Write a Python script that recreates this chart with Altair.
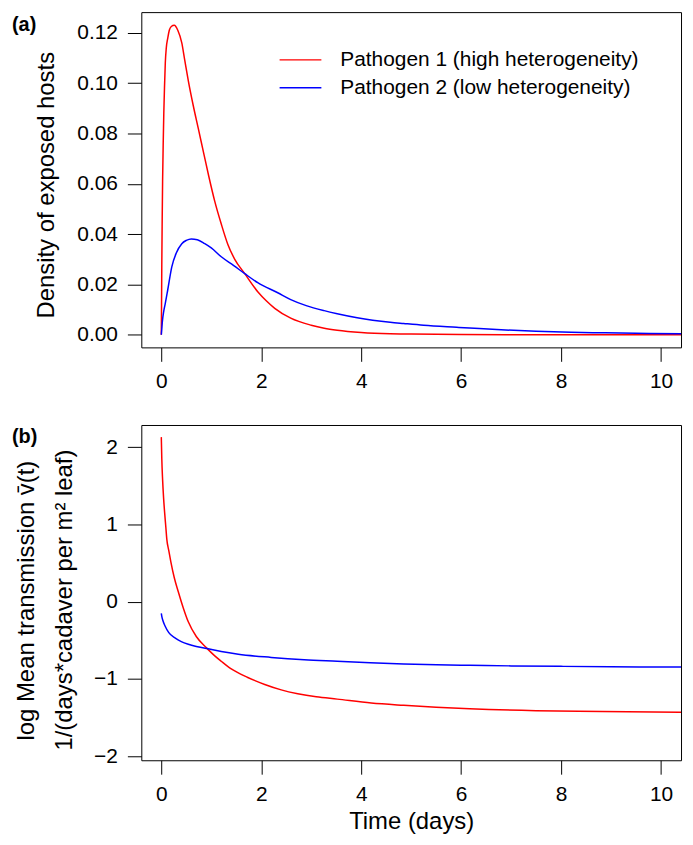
import altair as alt
import pandas as pd

series_names = ["Pathogen 1 (high heterogeneity)", "Pathogen 2 (low heterogeneity)"]
series_colors = ["#FF0000", "#0000FF"]

x_ticks = [0, 2, 4, 6, 8, 10]
ya_ticks = [0.0, 0.02, 0.04, 0.06, 0.08, 0.10, 0.12]
yb_ticks = [-2, -1, 0, 1, 2]

title_a_y = "Density of exposed hosts"
title_b_y1 = "log Mean transmission v\u0304(t)"
title_b_y2 = "1/(days*cadaver per m\u00b2 leaf)"
title_x = "Time (days)"

# Panel (a): density of exposed hosts
a_red_t = [0, 0.005, 0.01, 0.018, 0.026, 0.04, 0.05, 0.065, 0.08, 0.1, 0.13, 0.16, 0.2, 0.26,
           0.33, 0.41, 0.47, 0.54, 0.64, 0.74, 0.85, 0.95, 1.07, 1.2, 1.33, 1.47, 1.67, 1.93,
           2.1, 2.27, 2.59, 3.0, 3.26, 3.52, 4.0, 4.58, 5.0, 6.0, 7.0, 8.0, 9.0, 10.4]
a_red_v = [0, 0.012, 0.028, 0.046, 0.061, 0.078, 0.088, 0.099, 0.108, 0.114, 0.118, 0.121, 0.1225, 0.123,
           0.121, 0.116, 0.109, 0.101, 0.091, 0.082, 0.072, 0.063, 0.053, 0.044, 0.036, 0.030, 0.0243, 0.0171,
           0.0135, 0.0105, 0.0066, 0.0038, 0.0026, 0.0018, 0.0009, 0.0004, 0.0003, 0.00012, 0.00005, 0.00003, 0.00002, 0.00001]
a_blue_t = [0, 0.01, 0.02, 0.05, 0.08, 0.13, 0.21, 0.3, 0.41, 0.5, 0.6, 0.72, 0.87, 1.0, 1.2, 1.45, 1.67,
            1.93, 2.33, 2.59, 2.9, 3.26, 3.52, 3.92, 4.58, 4.85, 5.25, 5.91, 6.17, 6.8, 7.5, 8.2, 8.82, 9.5, 10.4]
a_blue_v = [0, 0.0025, 0.005, 0.0095, 0.0125, 0.018, 0.027, 0.0325, 0.0362, 0.0375, 0.0381, 0.0378, 0.0362,
            0.0345, 0.031, 0.0275, 0.0243, 0.0207, 0.0167, 0.0140, 0.0116, 0.0096, 0.0084, 0.0068, 0.0050,
            0.0045, 0.0038, 0.0030, 0.0027, 0.0020, 0.0014, 0.0010, 0.0008, 0.0006, 0.0004]

# Panel (b): log mean transmission
b_red_t = [0, 0.01, 0.026, 0.045, 0.066, 0.09, 0.11, 0.15, 0.19, 0.26, 0.34, 0.44, 0.54, 0.7, 0.91, 1.07,
           1.2, 1.4, 1.73, 2.07, 2.4, 2.73, 3.1, 3.52, 4.2, 4.85, 5.5, 6.17, 7.5, 8.82, 10.4]
b_red_v = [2.13, 1.85, 1.58, 1.35, 1.16, 0.97, 0.81, 0.66, 0.52, 0.31, 0.13, -0.08, -0.26, -0.45, -0.60, -0.70,
           -0.77, -0.87, -0.98, -1.07, -1.14, -1.19, -1.23, -1.26, -1.31, -1.34, -1.365, -1.385, -1.41, -1.42, -1.43]
b_blue_t = [0, 0.01, 0.03, 0.08, 0.15, 0.28, 0.4, 0.54, 0.7, 0.91, 1.2, 1.54, 2.2, 2.86, 3.52, 4.18, 4.85,
            5.51, 6.17, 7.0, 8.0, 9.0, 10.4]
b_blue_v = [-0.15, -0.19, -0.24, -0.32, -0.40, -0.47, -0.515, -0.55, -0.578, -0.605, -0.645, -0.68, -0.72,
            -0.75, -0.77, -0.79, -0.805, -0.815, -0.822, -0.83, -0.836, -0.841, -0.845]


def long_df(rt, rv, bt, bv):
    d1 = pd.DataFrame({"t": rt, "v": rv, "series": series_names[0]})
    d2 = pd.DataFrame({"t": bt, "v": bv, "series": series_names[1]})
    return pd.concat([d1, d2], ignore_index=True)


df_a = long_df(a_red_t, a_red_v, a_blue_t, a_blue_v)
df_b = long_df(b_red_t, b_red_v, b_blue_t, b_blue_v)

FONT = "Liberation Sans"
TICK_FS = 21
TITLE_FS = 24
W, H = 542.5, 337

xscale = alt.Scale(domain=[-0.4, 10.4], nice=False, zero=False)
cscale = alt.Scale(domain=series_names, range=series_colors)

legend_a = alt.Legend(
    orient="none", legendX=138, legendY=38, title=None,
    symbolType="stroke", symbolSize=1764, symbolStrokeWidth=1.5,
    labelFontSize=TICK_FS, labelFont=FONT, labelColor="black", labelLimit=0,
    clipHeight=20, rowPadding=7, labelOffset=18, padding=0,
)

lines_a = alt.Chart(df_a).mark_line(strokeWidth=1.5, interpolate="monotone").encode(
    x=alt.X("t:Q", scale=xscale, axis=alt.Axis(values=x_ticks, title=None, format="d")),
    y=alt.Y("v:Q", scale=alt.Scale(domain=[-0.005, 0.1282], nice=False, zero=False),
            axis=alt.Axis(values=ya_ticks, format=".2f", title=title_a_y,
                          titleX=-95, titleY=H / 2 + 5, titleAngle=270, titleAlign="center",
                          titleBaseline="middle")),
    color=alt.Color("series:N", scale=cscale, legend=legend_a),
)

label_a = alt.Chart(pd.DataFrame({"lab": ["(a)"]})).mark_text(
    font=FONT, fontSize=20, fontWeight="bold", align="left", baseline="middle", color="black"
).encode(text="lab:N", x=alt.value(-130), y=alt.value(13))

panel_a = alt.layer(lines_a, label_a).properties(width=W, height=H)

lines_b = alt.Chart(df_b).mark_line(strokeWidth=1.5, interpolate="monotone").encode(
    x=alt.X("t:Q", scale=xscale,
            axis=alt.Axis(values=x_ticks, title=title_x, format="d",
                          titleY=69, titleBaseline="alphabetic")),
    y=alt.Y("v:Q", scale=alt.Scale(domain=[-2.051, 2.287], nice=False, zero=False),
            axis=alt.Axis(values=yb_ticks, format="d", title=title_b_y2,
                          titleX=-77, titleY=H / 2 + 7, titleAngle=270, titleAlign="center",
                          titleBaseline="middle")),
    color=alt.Color("series:N", scale=cscale, legend=None),
)

title_b_line1 = alt.Chart(pd.DataFrame({"lab": [title_b_y1]})).mark_text(
    font=FONT, fontSize=TITLE_FS, align="center", baseline="middle", angle=270, color="black"
).encode(text="lab:N", x=alt.value(-115), y=alt.value(H / 2 + 8))

label_b = alt.Chart(pd.DataFrame({"lab": ["(b)"]})).mark_text(
    font=FONT, fontSize=20, fontWeight="bold", align="left", baseline="middle", color="black"
).encode(text="lab:N", x=alt.value(-130), y=alt.value(12))

panel_b = alt.layer(lines_b, title_b_line1, label_b).properties(width=W, height=H)

chart = alt.vconcat(panel_a, panel_b, spacing=32).resolve_legend(
    color="independent"
).properties(
    padding={"left": 3, "top": 1, "right": 0, "bottom": 1},
).configure_view(
    stroke="black", strokeWidth=1
).configure_axis(
    domain=False, grid=False, ticks=True, tickColor="black", tickSize=14, tickWidth=1,
    labelFont=FONT, labelFontSize=TICK_FS, labelColor="black",
    titleFont=FONT, titleFontSize=TITLE_FS, titleFontWeight="normal", titleColor="black",
    labelFlush=False,
).configure_axisX(
    labelPadding=9
).configure_axisY(
    labelPadding=10
)

chart.save("out.html", embed_options={"renderer": "svg", "actions": False})
